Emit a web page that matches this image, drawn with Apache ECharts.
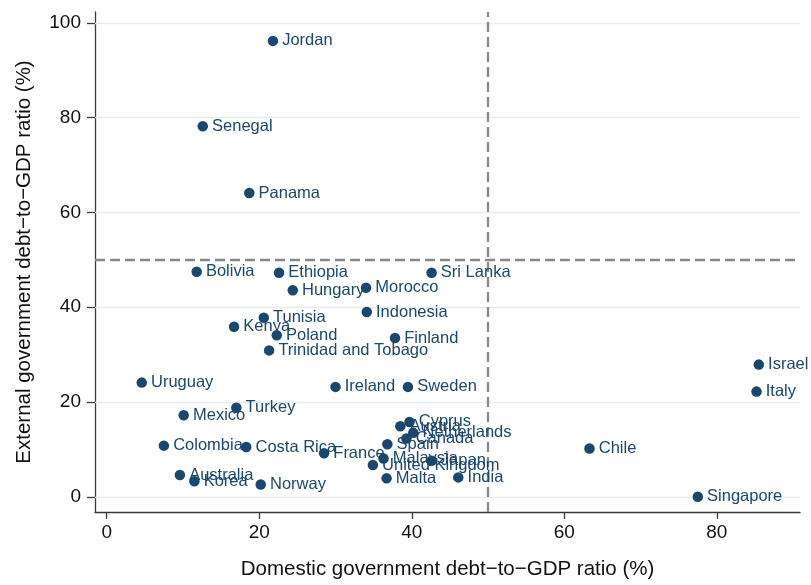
<!DOCTYPE html>
<html>
<head>
<meta charset="utf-8">
<script src="https://cdn.jsdelivr.net/npm/echarts@6/dist/echarts.min.js"></script>
<style>
html,body{margin:0;padding:0;background:#fff;}
#chart{width:811px;height:585px;}
</style>
</head>
<body>
<div id="chart"></div>
<script>
var countries = ["Jordan","Senegal","Panama","Bolivia","Ethiopia","Sri Lanka","Hungary","Morocco","Indonesia","Tunisia","Kenya","Poland","Finland","Trinidad and Tobago","Uruguay","Ireland","Sweden","Israel","Italy","Turkey","Mexico","Colombia","Costa Rica","France","Chile","Singapore","Norway","Australia","Korea","Cyprus","Austria","Netherlands","Canada","Spain","Malaysia","United Kingdom","Japan","Malta","India"];
var domestic = [21.8,12.6,18.7,11.8,22.6,42.6,24.4,34.0,34.1,20.6,16.7,22.3,37.8,21.3,4.6,30.0,39.5,85.5,85.2,17.0,10.1,7.5,18.3,28.5,63.3,77.5,20.2,9.6,11.5,39.7,38.5,40.2,39.3,36.8,36.3,34.9,42.6,36.7,46.1];
var external = [96.2,78.2,64.1,47.5,47.3,47.3,43.6,44.1,39.0,37.8,35.9,34.1,33.5,30.9,24.1,23.2,23.2,27.9,22.2,18.8,17.2,10.8,10.5,9.2,10.2,0.0,2.6,4.6,3.3,15.8,14.9,13.5,12.3,11.1,8.1,6.7,7.6,3.9,4.1];
var xTicks = [0,20,40,60,80];
var yTicks = [0,20,40,60,80,100];
var threshold = 50;
var xTitle = "Domestic government debt\u2212to\u2212GDP ratio (%)";
var yTitle = "External government debt\u2212to\u2212GDP ratio (%)";

var NAVY = "#1a476f";
var FONT = "Liberation Sans, Arial, sans-serif";

var pts = countries.map(function(c, i){ return {name: c, value: [domestic[i], external[i]]}; });

var chart = echarts.init(document.getElementById('chart'), null, {renderer:'canvas'});
chart.setOption({
  animation: false,
  backgroundColor: '#ffffff',
  grid: {left: 95, right: 11, top: 12, bottom: 73, containLabel: false},
  xAxis: {
    type: 'value', min: -1.53, max: 90.9,
    name: xTitle, nameLocation: 'middle', nameGap: 47,
    nameTextStyle: {fontFamily: FONT, fontSize: 20.5, color: '#111'},
    axisLine: {show: true, onZero: false, lineStyle: {color: '#3a3a3a', width: 1.3}},
    axisTick: {show: true, inside: false, length: 7, customValues: xTicks, lineStyle: {color: '#3a3a3a', width: 1.3}},
    axisLabel: {show: true, margin: 11, customValues: xTicks, fontFamily: FONT, fontSize: 19, color: '#111'},
    splitLine: {show: false}
  },
  yAxis: {
    type: 'value', min: -3.2, max: 102.3,
    name: yTitle, nameLocation: 'middle', nameGap: 60, nameRotate: 90,
    nameTextStyle: {fontFamily: FONT, fontSize: 20.5, color: '#111'},
    axisLine: {show: true, onZero: false, lineStyle: {color: '#3a3a3a', width: 1.3}},
    axisTick: {show: true, inside: false, length: 8, customValues: yTicks, lineStyle: {color: '#3a3a3a', width: 1.3}},
    axisLabel: {show: true, margin: 14, customValues: yTicks, fontFamily: FONT, fontSize: 19, color: '#111'},
    splitLine: {show: false}
  },
  series: [
    {
      type: 'scatter', data: [], z: 1, silent: true,
      markLine: {
        silent: true, symbol: ['none','none'], label: {show: false},
        lineStyle: {color: '#e3ecee', width: 1.3, type: 'solid'},
        data: yTicks.map(function(v){ return {yAxis: v}; })
      }
    },
    {
      type: 'scatter', data: [], z: 2, silent: true,
      markLine: {
        silent: true, symbol: ['none','none'], label: {show: false},
        lineStyle: {color: '#888888', width: 2.3, type: [10,5]},
        data: [{yAxis: threshold}, {xAxis: threshold}]
      }
    },
    {
      type: 'scatter', z: 5,
      symbol: 'circle', symbolSize: 10.5,
      itemStyle: {color: NAVY, opacity: 1},
      label: {show: true, position: 'right', distance: 4, formatter: '{b}',
              fontFamily: FONT, fontSize: 16.5, color: NAVY},
      data: pts
    }
  ]
});
</script>
</body>
</html>
